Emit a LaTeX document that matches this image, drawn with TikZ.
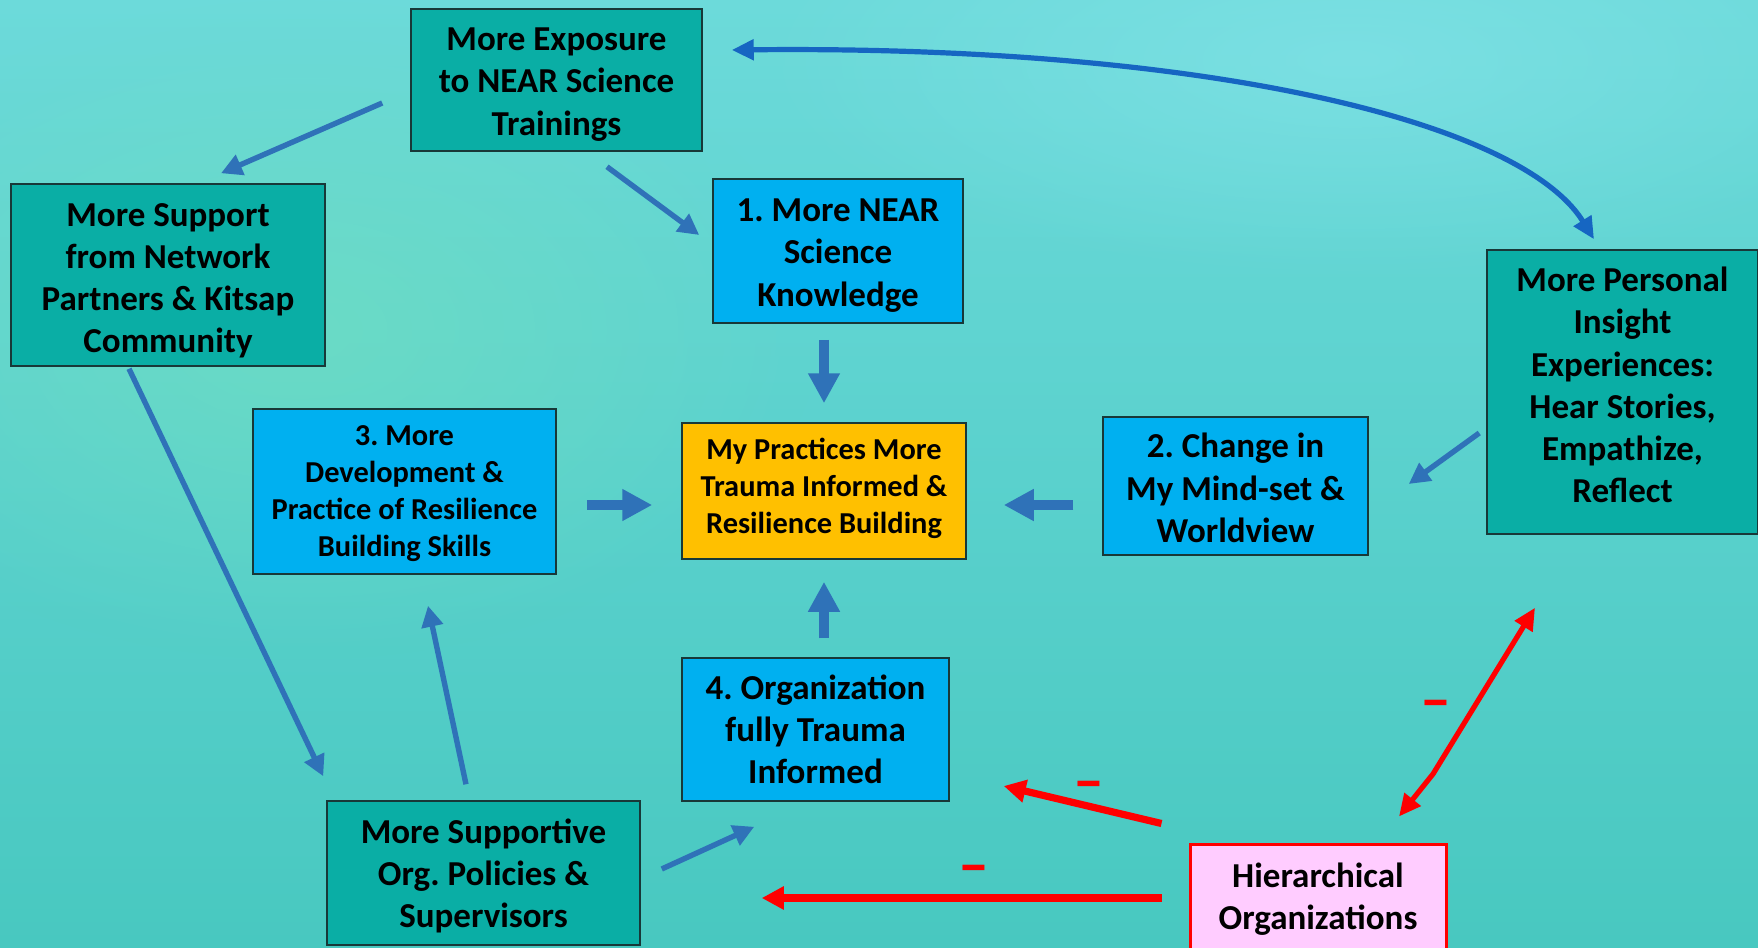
\documentclass[tikz,border=0pt]{standalone}
\usepackage{fontspec}
\setmainfont{Carlito}
\usetikzlibrary{arrows.meta,calc,fadings}
\tikzfading[name=softblob, inner color=transparent!0, outer color=transparent!100]
\definecolor{bgtop}{HTML}{6CDADA}
\definecolor{bgbot}{HTML}{48C8C0}
\definecolor{bggreen}{HTML}{72E0BE}
\definecolor{bglight}{HTML}{86E4EA}
\definecolor{tealbox}{HTML}{0AAEA5}
\definecolor{bluebox}{HTML}{00B0F0}
\definecolor{goldbox}{HTML}{FFC000}
\definecolor{pinkbox}{HTML}{FFCCFF}
\definecolor{boxline}{HTML}{183838}
\definecolor{arrblue}{HTML}{2F72B8}
\definecolor{curveblue}{HTML}{1666C2}
\definecolor{redc}{HTML}{FF0000}
\newcommand\BoxBig{\fontsize{17.5pt}{21.1pt}\selectfont\bfseries\frenchspacing}
\newcommand\BoxSmall{\fontsize{15.2pt}{18.5pt}\selectfont\bfseries\frenchspacing}
\newenvironment{lines}{\renewcommand\arraystretch{1}\begin{tabular}{@{}c@{}}}{\end{tabular}}
\newcommand\ShiftDown[1]{\noalign{\vskip #1}}
\begin{document}
\begin{tikzpicture}[x=0.5pt,y=-0.5pt,
  box/.style={draw=boxline, line width=0.75pt, inner sep=0pt, font=\BoxBig, text=black},
  smallbox/.style={box, font=\BoxSmall},
  teal/.style={fill=tealbox},
  blue/.style={fill=bluebox},
  thinarrow/.style={draw=arrblue, line width=2.7pt, -{Triangle[length=10.5pt,width=10.5pt]}},
  blockarrow/.style={draw=arrblue, line width=5pt, -{Triangle[length=15pt,width=15pt]}},
  curvearrow/.style={draw=curveblue, line width=2.6pt, {Triangle[length=11pt,width=10pt]}-{Triangle[length=11pt,width=10pt]}},
  redthick/.style={draw=redc, line width=3.6pt, -{Triangle[length=11pt,width=11pt]}},
  redthin/.style={draw=redc, line width=2.6pt, {Triangle[length=11pt,width=10pt]}-{Triangle[length=11pt,width=10pt]}},
  minus/.style={text=redc, inner sep=0pt, anchor=base, font=\fontsize{31pt}{31pt}\selectfont\bfseries}
]
\useasboundingbox (0,0) rectangle (1758,948);
% background
\shade[top color=bgtop, bottom color=bgbot] (0,0) rectangle (1758,948);
\fill[bggreen, path fading=softblob, opacity=0.6] (300,330) ellipse (520 and 330);
\fill[bglight, path fading=softblob, opacity=0.6] (1350,60) ellipse (600 and 220);

% boxes
\node[box, teal, minimum width=145.5pt, minimum height=71pt] (expo) at (556.5,80)
  {\begin{lines}\ShiftDown{4.5pt}More Exposure\\to NEAR Science\\Trainings\end{lines}};
\node[box, teal, minimum width=157pt, minimum height=91pt] (supp) at (168,275)
  {\begin{lines}\ShiftDown{5.9pt}More Support\\from Network\\Partners \& Kitsap\\Community\end{lines}};
\node[box, blue, minimum width=125pt, minimum height=72pt] (know) at (838,251)
  {\begin{lines}\ShiftDown{4.5pt}1. More NEAR\\Science\\Knowledge\end{lines}};
\node[box, teal, minimum width=135.5pt, minimum height=142pt] (pers) at (1622.5,392)
  {\begin{lines}More Personal\\Insight\\Experiences:\\Hear Stories,\\Empathize,\\Reflect\\\ShiftDown{3.2pt}\end{lines}};
\node[smallbox, blue, minimum width=151.5pt, minimum height=82.5pt] (dev) at (404.5,491.5)
  {\begin{lines}\ShiftDown{2.2pt}3. More\\Development \&\\Practice of Resilience\\Building Skills\end{lines}};
\node[smallbox, fill=goldbox, minimum width=142pt, minimum height=68pt] (prac) at (824,491)
  {\begin{lines}My Practices More\\Trauma Informed \&\\Resilience Building\\\ShiftDown{2.2pt}\end{lines}};
\node[box, blue, minimum width=132.5pt, minimum height=69pt] (chg) at (1235.5,486)
  {\begin{lines}\ShiftDown{5.6pt}2. Change in\\My Mind-set \&\\Worldview\end{lines}};
\node[box, blue, minimum width=133.5pt, minimum height=71.5pt] (org) at (815.5,729.5)
  {\begin{lines}\ShiftDown{3.4pt}4. Organization\\fully Trauma\\Informed\end{lines}};
\node[box, teal, minimum width=156.5pt, minimum height=72pt] (sup) at (483.5,873)
  {\begin{lines}\ShiftDown{3.9pt}More Supportive\\Org. Policies \&\\Supervisors\end{lines}};
\node[box, fill=pinkbox, draw=redc, line width=1.5pt, minimum width=128pt, minimum height=53pt] (hier) at (1318,897)
  {\begin{lines}\ShiftDown{3.4pt}Hierarchical\\Organizations\end{lines}};

% blue connectors
\draw[thinarrow] ([shift={(-28,23)}]expo.west) -- ([shift={(53,-10)}]supp.north);
\draw[thinarrow] ([shift={(50.5,15)}]expo.south) -- ([shift={(-13,-16)}]know.west);
\draw[curvearrow] ([shift={(29,-30)}]expo.east) .. controls (1200,45) and (1520,120) .. ([shift={(-28.5,-10)}]pers.north);
\draw[thinarrow] ([shift={(-39,2)}]supp.south) -- ([shift={(-3,-24)}]sup.north west);
\draw[thinarrow] ([shift={(-17.5,-16)}]sup.north) -- ([shift={(23.5,31)}]dev.south);
\draw[thinarrow] ([shift={(21,-4)}]sup.east) -- ([shift={(73,25)}]org.south west);
\draw[thinarrow] ([shift={(-7,41)}]pers.west) -- ([shift={(40,-2)}]chg.east);

% block arrows into the centre
\draw[blockarrow] ([shift={(-14,16)}]know.south) -- ([shift={(0,-19)}]prac.north);
\draw[blockarrow] ([shift={(30,13.5)}]dev.east) -- ([shift={(-29,14)}]prac.west);
\draw[blockarrow] ([shift={(-29,19)}]chg.west) -- ([shift={(37,14)}]prac.east);
\draw[blockarrow] ([shift={(8.5,-19)}]org.north) -- ([shift={(0,22)}]prac.south);

% red connectors
\draw[redthick] ([shift={(-27,-19)}]hier.north west) -- ([shift={(54,56.5)}]org.east);
\draw[redthick] ([shift={(-27,1)}]hier.west) -- ([shift={(121,25)}]sup.east);
\coordinate (kink) at (1433,774);
\draw[redthin] ([shift={(81,-26)}]hier.north) -- (kink) -- ([shift={(-87.5,73)}]pers.south);

% minus signs
\node[minus] (m1) at (1436,720.5) {\textendash};
\node[minus] (m2) at (1089,801.5) {\textendash};
\node[minus] (m3) at (974,885.5) {\textendash};
\end{tikzpicture}
\end{document}
